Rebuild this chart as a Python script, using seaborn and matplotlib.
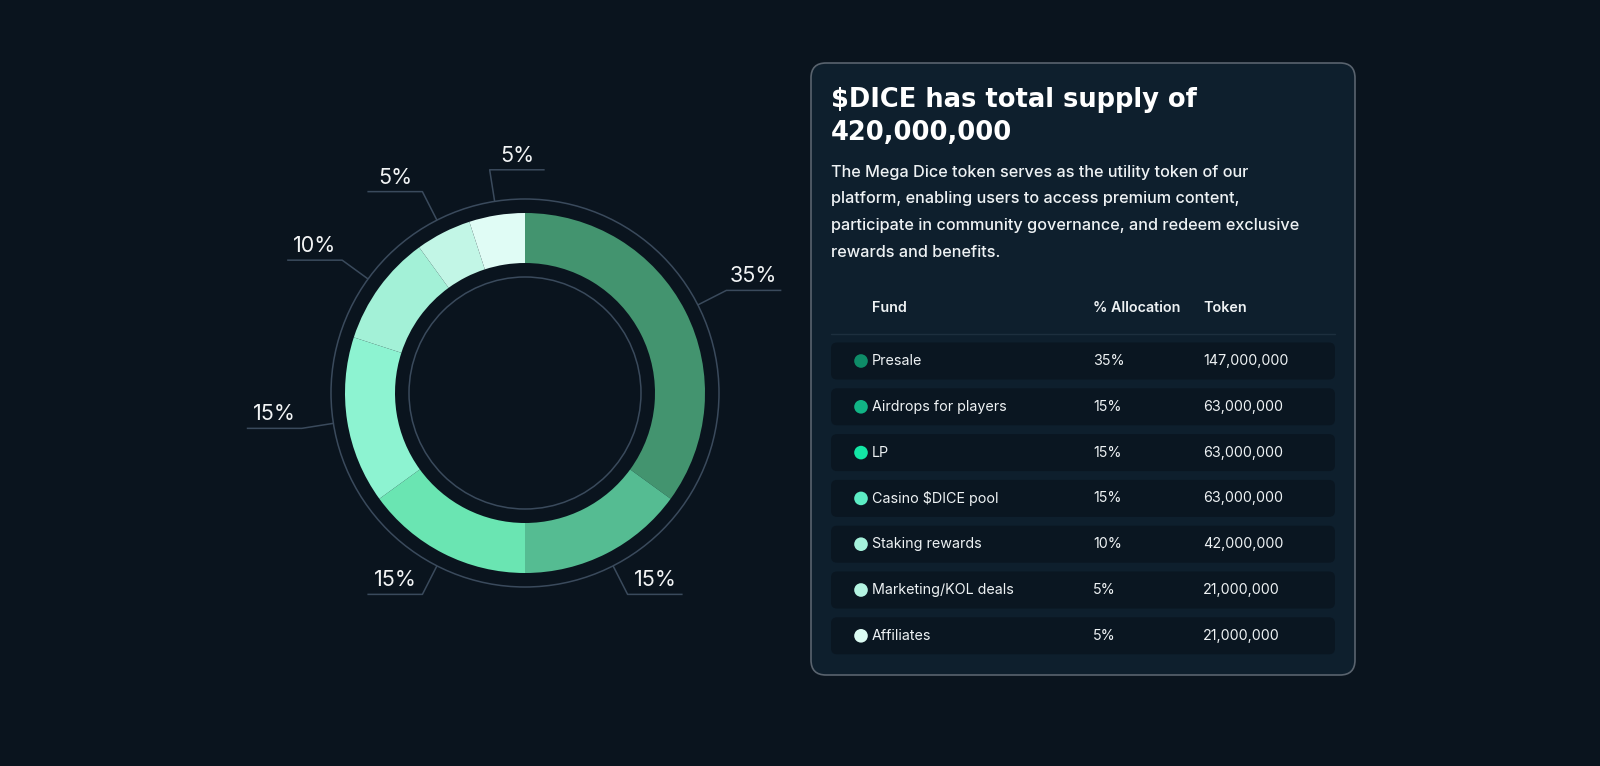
import numpy as np
import seaborn as sns
import matplotlib.pyplot as plt
from matplotlib.patches import FancyBboxPatch, Circle

# data
funds = ['Presale', 'Airdrops for players', 'LP', 'Casino $DICE pool',
         'Staking rewards', 'Marketing/KOL deals', 'Affiliates']
shares = [35, 15, 15, 15, 10, 5, 5]
tokens = ['147,000,000', '63,000,000', '63,000,000', '63,000,000',
          '42,000,000', '21,000,000', '21,000,000']
title_lines = ['$DICE has total supply of', '420,000,000']
body_lines = ['The Mega Dice token serves as the utility token of our',
              'platform, enabling users to access premium content,',
              'participate in community governance, and redeem exclusive',
              'rewards and benefits.']
headers = ['Fund', '% Allocation', 'Token']

ring_colors = ['#43946f', '#55bc92', '#6ae5b2', '#8df3d1', '#a3f1d7', '#c2f6e6', '#e0fcf5']
dot_colors = ['#0e8c68', '#11b485', '#13e6a5', '#5cecc4', '#a5f2dc', '#b4f4e2', '#dcfcf3']

bg = '#0a141e'
panel = '#0e1f2d'
rowbg = '#0a1621'
ring_line = '#3a4a5c'

sns.set_theme(style='dark', rc={'axes.facecolor': bg, 'figure.facecolor': bg})
plt.rcParams['font.family'] = ['Inter', 'DejaVu Sans']

fig = plt.figure(figsize=(16, 7.66), dpi=100)
ax = fig.add_axes([0, 0, 1, 1])

cx, cy, R = 525, 393, 180
wedges, _ = ax.pie(shares, colors=sns.color_palette(ring_colors), startangle=-90,
                   counterclock=True, center=(cx, cy), radius=R,
                   wedgeprops=dict(width=50, linewidth=0), frame=True)
ax.add_patch(Circle((cx, cy), 116, fill=False, ec=ring_line, lw=1.1))
ax.add_patch(Circle((cx, cy), 194, fill=False, ec=ring_line, lw=1.1))

# leader lines + labels
cum = np.cumsum([0] + shares)
total = sum(shares)
for i, s in enumerate(shares):
    th = np.deg2rad((cum[i] + s / 2) / total * 360)
    dx, dy = np.sin(th), -np.cos(th)
    x1, y1 = cx + 194 * dx, cy + 194 * dy
    x2, y2 = cx + 226 * dx, cy + 226 * dy
    side = 1 if dx > -0.2 else -1
    x3 = x2 + side * 55
    ax.plot([x1, x2, x3], [y1, y2, y2], color=ring_line, lw=1.1, solid_capstyle='butt')
    ax.text((x2 + x3) / 2, y2 - 4, f'{s}%', color='#f2f4f5', fontsize=15.5,
            ha='center', va='bottom')

# info panel
ax.add_patch(FancyBboxPatch((811, 63), 544, 612, boxstyle='round,pad=0,rounding_size=15',
                            fc=panel, ec='#59636e', lw=1.2))
for k, line in enumerate(title_lines):
    ax.text(831, 100 + k * 33, line, color='white', fontsize=18.5, fontweight='bold',
            family=['DejaVu Sans'], va='center', ha='left')
for k, line in enumerate(body_lines):
    ax.text(831, 172 + k * 26.7, line, color='#eef2f4', fontsize=11.7, fontweight='medium',
            va='center', ha='left')

col_x = [872, 1093, 1203]
for h, x in zip(headers, col_x):
    ax.text(x, 308, h, color='#eef2f4', fontsize=10.3, fontweight='semibold',
            va='center', ha='left')
ax.plot([831, 1335], [334, 334], color='#1d2f3e', lw=1)

for i, f in enumerate(funds):
    yc = 361 + i * 45.8
    ax.add_patch(FancyBboxPatch((831, yc - 18.5), 504, 37,
                                boxstyle='round,pad=0,rounding_size=6', fc=rowbg, ec='none'))
    ax.add_patch(Circle((861, yc), 6.8, fc=dot_colors[i], ec='none'))
    ax.text(col_x[0], yc, f, color='#eef2f4', fontsize=10.3, va='center', ha='left')
    ax.text(col_x[1], yc, f'{shares[i]}%', color='#eef2f4', fontsize=10.3, va='center', ha='left')
    ax.text(col_x[2], yc, tokens[i], color='#eef2f4', fontsize=10.3, va='center', ha='left')

ax.set_xlim(0, 1600)
ax.set_ylim(766, 0)
ax.set_aspect('equal')
ax.axis('off')

fig.savefig('out.png', dpi=100, facecolor=bg)
